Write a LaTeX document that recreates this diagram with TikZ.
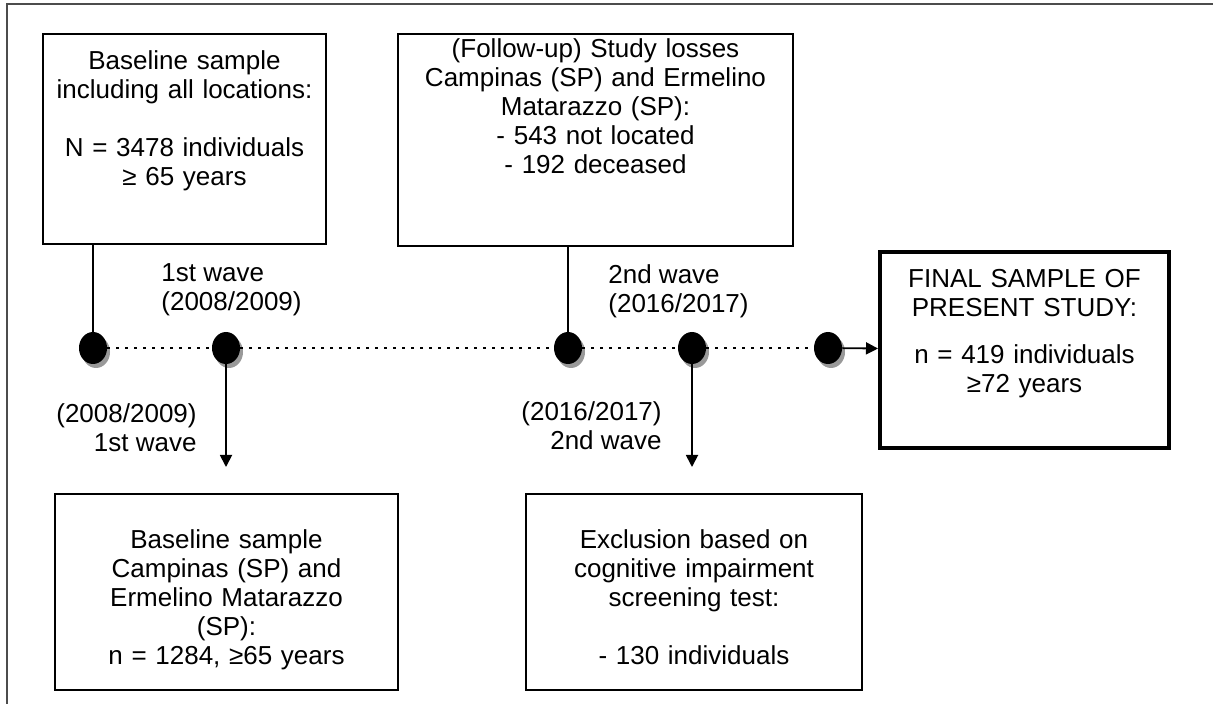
\documentclass[tikz,border=0pt]{standalone}
\usepackage{fontspec}
\setmainfont{Liberation Sans}
\usetikzlibrary{arrows.meta,shapes.geometric,shadows}

\begin{document}
\begin{tikzpicture}[x=0.5pt,y=-0.5pt,
  font=\fontsize{13}{14.5}\selectfont,
  panel/.style={draw,line width=1pt,anchor=north,align=center,
    inner xsep=0pt,inner ysep=8pt,text height=10pt},
  dot/.style={ellipse,fill=black,inner sep=0pt,minimum width=14pt,
    minimum height=16pt,drop shadow={shadow xshift=1.5pt,
    shadow yshift=-2pt,fill=black!40,opacity=1}},
  conn/.style={line width=0.9pt},
  arrow/.style={line width=0.9pt,-{Triangle[length=6pt,width=6pt]}},
  timeline/.style={line width=1.2pt,dash pattern=on 1.2pt off 3.3pt},
  wave/.style={inner sep=0pt}]
\useasboundingbox (0,0) rectangle (1213,704);
\draw[line width=0.8pt,black!70] (7,704) -- (7,4) -- (1213,4);

% boxes
\node[panel,text width=141.5pt,text depth=79pt] (base) at (184.5,33)
  {Baseline sample\\including all locations:\\[14.5pt]N = 3478 individuals\\≥ 65 years};
\node[panel,text width=197.5pt,text depth=92pt,inner ysep=2pt] (loss) at (595.5,33)
  {(Follow-up) Study losses\\Campinas (SP) and Ermelino\\Matarazzo (SP):\\- 543 not located\\- 192 deceased};
\node[panel,text width=144.5pt,text depth=72pt,line width=2pt] (final) at (1024.5,250)
  {FINAL SAMPLE OF\\PRESENT STUDY:\\[9pt]n = 419 individuals\\≥72 years};
\node[panel,text width=171.5pt,text depth=54pt,inner ysep=17pt] (camp) at (226.5,493)
  {Baseline sample\\Campinas (SP) and\\Ermelino Matarazzo\\(SP):\\n = 1284, ≥65 years};
\node[panel,text width=168pt,text depth=54pt,inner ysep=17pt] (excl) at (694,493)
  {Exclusion based on\\cognitive impairment\\screening test:\\[14.5pt]- 130 individuals};

% timeline
\node[dot] (t1) at (93,348) {};
\node[dot] (t2) at (226,348) {};
\node[dot] (t3) at (568,348) {};
\node[dot] (t4) at (692,348) {};
\node[dot] (t5) at (828,348) {};
\coordinate (e1) at (226,467);
\coordinate (e2) at (692,467);

\draw[timeline] (t1) -- (t2) -- (t3) -- (t4) -- (t5);
\draw[conn] (base.south -| t1) -- (t1);
\draw[conn] (loss.south -| t3) -- (t3);
\draw[arrow] (t2) -- (e1);
\draw[arrow] (t4) -- (e2);
\draw[arrow] (t5) -- (final);

% wave labels
\node[wave,anchor=north west,align=left] (w1) at (161,263) {1st wave\\(2008/2009)};
\node[wave,anchor=north east,align=right] (w2) at (197,403) {(2008/2009)\\1st wave};
\node[wave,anchor=north west,align=left] (w3) at (608,264) {2nd wave\\(2016/2017)};
\node[wave,anchor=north east,align=right] (w4) at (662,401) {(2016/2017)\\2nd wave};
\end{tikzpicture}
\end{document}
